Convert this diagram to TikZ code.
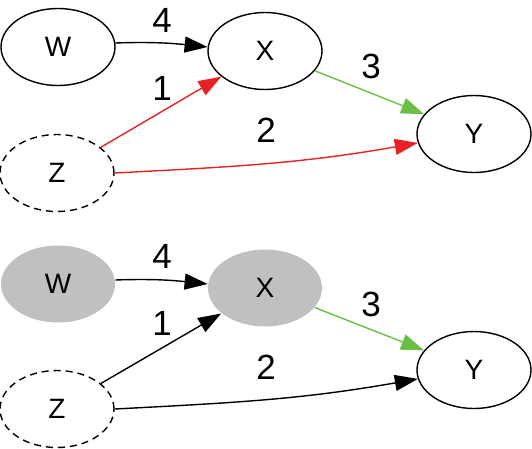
\documentclass[tikz,border=0pt]{standalone}
\usepackage{fontspec}
\setmainfont{Liberation Sans}
\usetikzlibrary{shapes.geometric,arrows.meta}
\definecolor{pathred}{RGB}{230,34,36}
\definecolor{pathgreen}{RGB}{109,190,69}
\definecolor{obsgray}{RGB}{192,192,192}

\begin{document}
\begin{tikzpicture}[x=1pt, y=-1pt, line width=1.4pt,
	var/.style={ellipse, draw, minimum width=114pt, minimum height=77pt, inner sep=0pt, font=\fontsize{28}{28}\selectfont},
	hidden/.style={var, dash pattern=on 7pt off 5pt},
	seen/.style={var, draw=none, fill=obsgray},
	num/.style={inner sep=0pt, font=\fontsize{35}{35}\selectfont},
	link/.style={-{Triangle[length=23pt,width=16pt]}}]
	\useasboundingbox (0,0) rectangle (532,448);
	\node[var] (W1) at (58,47) {W};
	\node[var] (X1) at (265,51) {X};
	\node[var] (Y1) at (474,134) {Y};
	\node[hidden] (Z1) at (57,173) {Z};
	\draw[link] (W1.4) to[out=2, in=174] (X1.176);
	\draw[link, pathred] (Z1) -- (X1);
	\draw[link, pathgreen] (X1) -- (Y1);
	\draw[link, pathred] (Z1.east) to[out=3, in=190] (Y1.189);
	\node[num] (n4a) at (162,20) {4};
	\node[num] (n1a) at (162,88) {1};
	\node[num] (n3a) at (371,66) {3};
	\node[num] (n2a) at (266,130) {2};
	\node[seen] (W2) at (58,284) {W};
	\node[seen] (X2) at (265,288) {X};
	\node[var] (Y2) at (474,370) {Y};
	\node[hidden] (Z2) at (57,409) {Z};
	\draw[link] (W2.4) to[out=2, in=174] (X2.176);
	\draw[link] (Z2) -- (X2);
	\draw[link, pathgreen] (X2) -- (Y2);
	\draw[link] (Z2.east) to[out=3, in=190] (Y2.189);
	\node[num] (n4b) at (162,256) {4};
	\node[num] (n1b) at (162,323) {1};
	\node[num] (n3b) at (371,304) {3};
	\node[num] (n2b) at (266,367) {2};
\end{tikzpicture}
\end{document}
